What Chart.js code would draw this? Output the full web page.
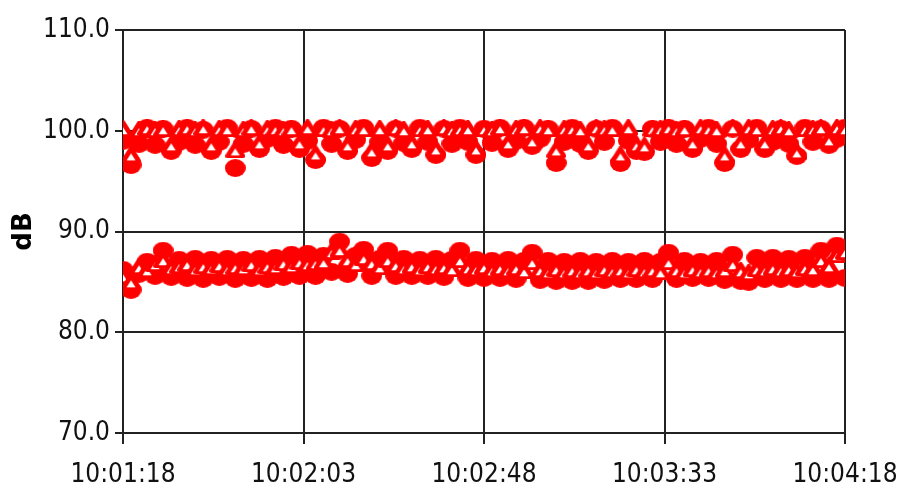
<!DOCTYPE html>
<html><head><meta charset="utf-8">
<style>html,body{margin:0;padding:0;background:#fff}#wrap{width:900px;height:497px}</style>
<script src="https://cdn.jsdelivr.net/npm/chart.js@4/dist/chart.umd.min.js"></script>
</head><body><div id="wrap"><canvas id="c" width="900" height="497"></canvas></div>
<script>
// sample times in seconds after 10:01:18
const sampleTimes = [0,2,4,6,8,10,12,14,16,18,20,22,24,26,28,30,32,34,36,38,40,42,44,46,48,50,52,54,56,58,60,62,64,66,68,70,72,74,76,78,80,82,84,86,88,90,92,94,96,98,100,102,104,106,108,110,112,114,116,118,120,122,124,126,128,130,132,134,136,138,140,142,144,146,148,150,152,154,156,158,160,162,164,166,168,170,172,174,176,178,180];
const xTickValues = [0,45,90,135,180];
const xTickLabels = ["10:01:18","10:02:03","10:02:48","10:03:33","10:04:18"];
const upperCircles = [99.0,96.6,98.7,100.3,98.6,100.2,98.0,98.9,100.3,98.6,100.1,98.0,98.9,100.3,96.3,98.7,100.2,98.2,99.2,100.3,98.6,100.2,98.2,99.0,97.1,100.3,98.7,100.2,98.0,99.1,100.3,97.3,98.9,98.0,100.2,98.8,98.2,100.3,98.9,97.6,100.2,98.7,100.3,98.9,97.6,100.2,98.8,100.3,98.2,99.0,100.3,98.5,99.2,100.2,96.8,98.9,100.3,98.7,98.0,100.2,98.9,100.3,96.8,99.0,98.0,97.9,100.2,98.9,100.3,98.7,100.2,98.2,99.2,100.3,98.7,96.8,100.2,98.2,99.1,100.3,98.2,98.9,100.2,98.7,97.5,100.3,98.9,100.2,98.6,99.2,100.3];
const upperTriangles = [100.2,97.6,100.1,100.3,100.1,100.2,98.6,100.2,100.3,100.1,100.3,98.6,100.2,100.2,98.1,100.1,100.3,98.8,100.2,100.2,100.1,100.2,98.8,100.3,97.7,100.2,100.1,100.3,98.6,100.2,100.2,98.0,100.2,98.6,100.3,100.1,98.8,100.2,100.2,98.2,100.3,100.1,100.2,100.2,98.2,100.2,100.1,100.3,98.8,100.2,100.3,99.0,100.3,100.2,98.1,100.2,100.2,100.1,98.6,100.3,100.2,100.2,97.6,100.3,98.6,98.5,100.2,100.2,100.3,100.1,100.2,98.8,100.3,100.2,100.1,97.6,100.3,98.8,100.3,100.2,98.8,100.2,100.3,100.1,97.9,100.2,100.2,100.3,99.1,100.3,100.2];
const lowerCircles = [86.2,84.2,85.8,87.0,85.6,88.1,85.5,87.2,85.4,87.3,85.3,87.2,85.5,87.3,85.3,87.2,85.4,87.3,85.3,87.4,85.5,87.7,85.6,87.8,85.6,87.6,86.0,89.0,85.8,87.6,88.2,85.6,87.3,88.1,85.6,87.3,85.6,87.2,85.6,87.3,85.5,87.2,88.1,85.4,87.2,85.4,87.1,85.4,87.2,85.3,87.1,87.9,85.2,87.1,85.1,87.0,85.1,87.1,85.1,87.0,85.2,87.1,85.3,87.0,85.3,87.1,85.3,87.0,87.9,85.3,87.1,85.4,87.0,85.4,87.1,85.2,87.7,85.1,85.0,87.4,85.3,87.4,85.3,87.3,85.3,87.4,85.3,88.1,85.3,88.6,85.4];
const lowerTriangles = [85.6,85.0,86.5,86.2,86.8,87.2,86.4,86.6,86.8,86.3,86.6,86.4,86.7,86.3,86.5,86.4,86.8,86.3,86.6,86.5,86.9,86.6,87.0,86.8,86.9,87.0,88.0,88.2,87.2,86.8,87.4,86.9,86.5,87.2,86.7,86.4,86.6,86.3,86.6,86.4,86.5,86.3,87.2,86.4,86.3,86.5,86.2,86.4,86.2,86.4,86.1,87.0,86.2,86.0,86.3,86.0,86.2,86.0,86.2,86.0,86.3,86.1,86.2,86.0,86.3,86.1,86.2,86.0,87.0,86.2,86.0,86.3,86.1,86.2,86.0,86.2,86.8,86.1,85.9,86.3,86.2,86.4,86.2,86.3,86.1,86.4,86.3,87.2,86.6,87.7,88.0];

const RED = '#ff0000';
// marker sprites (the reference is horizontally stretched, so markers are slightly wide)
function makeEllipse(rx, ry) {
  const c = document.createElement('canvas');
  c.width = Math.ceil(rx * 2); c.height = Math.ceil(ry * 2);
  const g = c.getContext('2d');
  g.fillStyle = RED;
  g.beginPath(); g.ellipse(c.width / 2, c.height / 2, rx, ry, 0, 0, Math.PI * 2); g.fill();
  return c;
}
function makeTriangle(w, h, iw, ih) {
  const c = document.createElement('canvas');
  c.width = w; c.height = h;
  const g = c.getContext('2d');
  const lw = 5;
  g.fillStyle = RED; g.strokeStyle = RED; g.lineWidth = lw; g.lineJoin = 'round';
  g.beginPath(); g.moveTo(w / 2, lw / 2); g.lineTo(w - lw / 2, h - lw / 2); g.lineTo(lw / 2, h - lw / 2); g.closePath();
  g.fill(); g.stroke();
  // open (white) interior
  const cy = h * 0.62;
  g.fillStyle = '#ffffff';
  g.beginPath(); g.moveTo(w / 2, cy - ih / 2); g.lineTo(w / 2 + iw / 2, cy + ih / 2); g.lineTo(w / 2 - iw / 2, cy + ih / 2); g.closePath();
  g.fill();
  return c;
}
const circleSprite = makeEllipse(10.5, 9);
const triangleSprite = makeTriangle(20, 17, 9, 7);

const toPts = vals => vals.map((v, i) => ({x: sampleTimes[i], y: v}));
const FONT = "'DejaVu Sans Condensed','DejaVu Sans',sans-serif";
const triStyle = {pointStyle: triangleSprite, pointRadius: 9, showLine: false, clip: 0};
const cirStyle = {pointStyle: circleSprite, pointRadius: 9, showLine: false, clip: 0};

new Chart(document.getElementById('c'), {
  type: 'scatter',
  data: {datasets: [
    Object.assign({label: 'upper tri', data: toPts(upperTriangles)}, triStyle),
    Object.assign({label: 'lower tri', data: toPts(lowerTriangles)}, triStyle),
    Object.assign({label: 'upper cir', data: toPts(upperCircles)}, cirStyle),
    Object.assign({label: 'lower cir', data: toPts(lowerCircles)}, cirStyle)
  ]},
  options: {
    responsive: false, animation: false, events: [],
    layout: {padding: {left: 0, right: 55, top: 30, bottom: 0}},
    plugins: {legend: {display: false}, tooltip: {enabled: false}},
    scales: {
      x: {
        type: 'linear', min: 0, max: 180,
        afterFit: s => { s.height = 64; s.paddingRight = 0; s.paddingLeft = 0; },
        afterBuildTicks: s => { s.ticks = xTickValues.map(v => ({value: v})); },
        ticks: {
          callback: (v, i) => xTickLabels[i],
          font: {family: FONT, size: 26}, color: '#111', padding: 16, maxRotation: 0, autoSkip: false
        },
        grid: {color: '#222', lineWidth: 2, tickLength: 11, tickColor: '#222'},
        border: {display: true, color: '#222', width: 2}
      },
      y: {
        min: 70, max: 110,
        afterFit: s => { s.width = 123; },
        ticks: {
          stepSize: 10, callback: v => v.toFixed(1),
          font: {family: FONT, size: 26}, color: '#111', padding: 5
        },
        grid: {color: '#222', lineWidth: 2, tickLength: 8, tickColor: '#222'},
        border: {display: true, color: '#222', width: 2},
        title: {display: true, text: 'dB', font: {family: "'DejaVu Sans',sans-serif", size: 26, weight: 'bold'}, color: '#000', padding: {top: 9, bottom: 0}}
      }
    }
  }
});
</script></body></html>
